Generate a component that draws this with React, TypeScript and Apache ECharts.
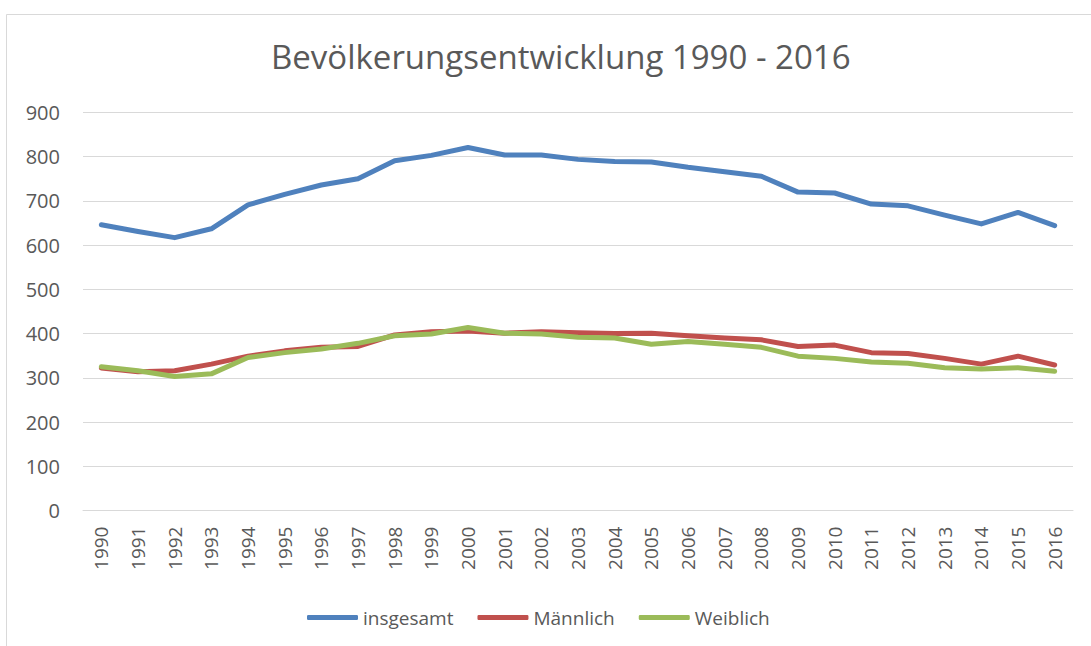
import React, { useEffect, useRef } from "react";
import * as echarts from "echarts";

const years = ["1990","1991","1992","1993","1994","1995","1996","1997","1998","1999","2000","2001","2002","2003","2004","2005","2006","2007","2008","2009","2010","2011","2012","2013","2014","2015","2016"];
const insgesamt = [646, 631, 617, 637, 691, 715, 736, 750, 791, 803, 821, 804, 804, 794, 789, 788, 776, 766, 756, 720, 718, 693, 689, 668, 648, 674, 644];
const maennlich = [322, 314, 316, 331, 349, 361, 369, 371, 397, 404, 406, 401, 404, 402, 400, 401, 395, 390, 386, 371, 374, 357, 355, 344, 331, 349, 329];
const weiblich = [325, 316, 303, 309, 346, 357, 365, 378, 395, 399, 414, 401, 399, 392, 390, 376, 382, 376, 369, 349, 344, 336, 333, 323, 320, 323, 315];
const yTicks = { min: 0, max: 900, interval: 100 };

const FONT = "'Open Sans', sans-serif";
const TXT = "#595959";

export default function App() {
  const ref = useRef<HTMLDivElement>(null);
  useEffect(() => {
    if (!ref.current) return;
    const chart = echarts.init(ref.current, null, { renderer: "svg" });
    const mk = (name: string, data: number[], color: string) => ({
      name,
      type: "line",
      data,
      symbol: "none",
      showSymbol: false,
      lineStyle: { width: 5, color, cap: "round", join: "round" },
      itemStyle: { color },
    });
    chart.setOption({
      animation: false,
      backgroundColor: "#ffffff",
      textStyle: { fontFamily: FONT },
      graphic: [
        {
          type: "rect",
          shape: { x: 6.5, y: 14.5, width: 1100, height: 660 },
          style: { fill: "none", stroke: "#d9d9d9", lineWidth: 1 },
          silent: true,
        },
      ],
      title: {
        text: "Bevölkerungsentwicklung 1990 - 2016",
        left: 266,
        top: 35,
        textStyle: { fontFamily: FONT, fontSize: 33, fontWeight: "normal", color: TXT },
      },
      legend: {
        left: 302,
        top: 603,
        icon: "roundRect",
        itemWidth: 51,
        itemHeight: 5,
        itemGap: 24,
        textStyle: { fontFamily: FONT, fontSize: 19, color: TXT },
        data: ["insgesamt", "Männlich", "Weiblich"],
      },
      grid: { left: 83, right: 18, top: 112.5, bottom: 135.5, containLabel: false },
      xAxis: {
        type: "category",
        data: years,
        boundaryGap: true,
        axisLine: { show: true, lineStyle: { color: "#d9d9d9", width: 1 } },
        axisTick: { show: false },
        axisLabel: { interval: 0, rotate: 90, margin: 16, fontSize: 19, color: TXT, fontFamily: FONT },
      },
      yAxis: {
        type: "value",
        min: yTicks.min,
        max: yTicks.max,
        interval: yTicks.interval,
        axisLine: { show: false },
        axisTick: { show: false },
        splitLine: { lineStyle: { color: "#d9d9d9", width: 1 } },
        axisLabel: { margin: 23, fontSize: 20, color: TXT, fontFamily: FONT },
      },
      series: [
        mk("insgesamt", insgesamt, "#4F81BD"),
        mk("Männlich", maennlich, "#C0504D"),
        mk("Weiblich", weiblich, "#9BBB59"),
      ],
    });
    return () => chart.dispose();
  }, []);
  return (
    <div
      ref={ref}
      style={{ position: "absolute", left: 0, top: 0, width: 1091, height: 646 }}
    />
  );
}
